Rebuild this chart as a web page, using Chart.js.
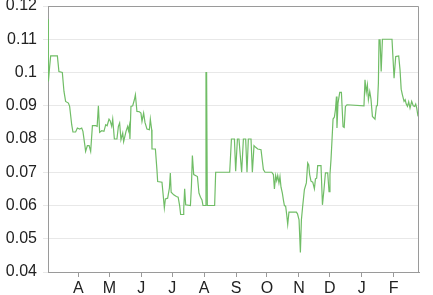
<!DOCTYPE html>
<html>
<head>
<meta charset="utf-8">
<script src="https://cdn.jsdelivr.net/npm/chart.js@4"></script>
<style>
  html, body { margin: 0; padding: 0; background: #fff; }
  #wrap { width: 433px; height: 295px; }
</style>
</head>
<body>
<div id="wrap"><canvas id="rateChart" width="433" height="295"></canvas></div>
<script>
// days counted from 1 March
const days = [
  1.5, 1.9, 3.1, 4.1, 10.6, 12.1, 15.4, 17.0, 18.6, 21.3, 22.5, 24.5, 25.7, 28.3, 30.0, 32.2,
  34.2, 35.4, 37.4, 38.0, 39.7, 41.4, 42.9, 44.6, 47.8, 49.2, 50.4, 51.6, 53.6, 55.8, 57.5, 58.9,
  60.7, 61.8, 63.3, 64.3, 65.9, 68.4, 69.8, 71.0, 72.3, 74.0, 74.9, 77.2, 78.8, 79.6, 80.5, 81.0,
  82.0, 83.7, 85.3, 86.3, 87.8, 90.2, 91.7, 92.7, 94.3, 95.6, 97.5, 99.9, 100.8, 102.1, 102.4, 105.7,
  107.2, 107.9, 112.1, 113.1, 114.4, 115.4, 117.6, 119.3, 120.2, 121.0, 123.5, 126.1, 127.8, 129.3, 130.2, 132.5,
  133.2, 134.1, 135.1, 139.7, 140.7, 141.6, 142.9, 146.5, 148.0, 149.5, 150.9, 151.9, 154.1, 154.8, 155.4, 156.1,
  163.2, 164.2, 177.8, 179.5, 182.4, 183.6, 185.3, 186.8, 189.4, 191.1, 193.3, 194.6, 195.9, 198.5, 199.8, 201.4,
  203.0, 205.0, 208.2, 210.5, 212.1, 218.6, 220.2, 221.2, 222.4, 223.4, 224.4, 225.6, 226.6, 227.6, 228.9, 229.9,
  230.9, 232.1, 233.1, 234.1, 235.3, 242.5, 243.6, 245.1, 246.4, 247.4, 248.6, 250.3, 252.2, 253.5, 254.5, 255.4,
  256.7, 258.4, 260.0, 261.0, 262.2, 263.2, 266.4, 267.8, 269.3, 270.7, 272.9, 274.2, 275.1, 276.1, 277.1, 278.1,
  279.4, 280.4, 281.4, 281.9, 282.9, 284.6, 286.2, 287.8, 288.9, 290.1, 291.6, 308.1, 309.1, 310.3, 311.4, 312.4,
  313.7, 314.9, 316.3, 318.8, 320.2, 321.1, 322.1, 322.7, 323.7, 324.8, 326.0, 335.3, 337.3, 338.9, 341.8, 343.1,
  344.2, 345.4, 347.0, 348.1, 349.1, 350.3, 351.5, 352.8, 354.4, 355.9, 357.3, 358.3, 359.3, 360.3, 361.5
];
const rates = [
  0.116, 0.0973, 0.1018, 0.105, 0.105, 0.1003, 0.100, 0.0943, 0.0913, 0.0908, 0.0898, 0.0843, 0.0821, 0.0821, 0.0833, 0.0830,
  0.0833, 0.0823, 0.0778, 0.0763, 0.078, 0.078, 0.0763, 0.084, 0.084, 0.0838, 0.090, 0.082, 0.0825, 0.0823, 0.0843, 0.0840,
  0.086, 0.0855, 0.0838, 0.086, 0.080, 0.080, 0.0838, 0.0848, 0.0798, 0.0818, 0.0792, 0.0823, 0.0838, 0.0825, 0.084, 0.080,
  0.0898, 0.090, 0.0918, 0.0933, 0.0883, 0.0882, 0.0878, 0.0853, 0.0878, 0.085, 0.0830, 0.0828, 0.086, 0.0828, 0.077, 0.077,
  0.0708, 0.0672, 0.0670, 0.0637, 0.0593, 0.0620, 0.0622, 0.0652, 0.0698, 0.0640, 0.0632, 0.0627, 0.0625, 0.0598, 0.0573, 0.0573,
  0.059, 0.0650, 0.0602, 0.060, 0.066, 0.0750, 0.0693, 0.0687, 0.0637, 0.0625, 0.0617, 0.060, 0.060, 0.100, 0.100, 0.060,
  0.060, 0.070, 0.070, 0.080, 0.080, 0.0703, 0.080, 0.080, 0.070, 0.080, 0.080, 0.070, 0.080, 0.080, 0.070, 0.078,
  0.0775, 0.077, 0.0768, 0.0708, 0.070, 0.0700, 0.0693, 0.065, 0.069, 0.0675, 0.069, 0.0668, 0.0687, 0.0655, 0.0637, 0.0617,
  0.060, 0.0598, 0.0573, 0.0543, 0.058, 0.058, 0.0575, 0.0557, 0.0459, 0.0557, 0.0597, 0.0648, 0.0668, 0.0728, 0.0722, 0.0693,
  0.0673, 0.0670, 0.065, 0.068, 0.0682, 0.072, 0.072, 0.0602, 0.0648, 0.0698, 0.0698, 0.0642, 0.0693, 0.0738, 0.0798, 0.086,
  0.0866, 0.0888, 0.0928, 0.0833, 0.0908, 0.094, 0.094, 0.0837, 0.0835, 0.0898, 0.0903, 0.090, 0.0978, 0.094, 0.0963, 0.0918,
  0.0943, 0.092, 0.0868, 0.086, 0.090, 0.090, 0.0968, 0.1098, 0.1098, 0.1003, 0.110, 0.110, 0.0983, 0.1048, 0.105, 0.1008,
  0.0950, 0.0933, 0.0913, 0.0918, 0.0905, 0.0898, 0.0912, 0.0893, 0.0913, 0.090, 0.0898, 0.0905, 0.0893, 0.0873, 0.0883
];
const monthStarts = [31, 61, 92, 122, 153, 184, 214, 245, 275, 306, 337];
const monthLabels = ['A', 'M', 'J', 'J', 'A', 'S', 'O', 'N', 'D', 'J', 'F'];

const points = days.map((d, i) => ({ x: d, y: rates[i] }));
const axisGray = '#9a9a9a';
const font = { family: 'Liberation Sans', size: 16 };

// top and right edges of the frame
const frame = {
  id: 'frame',
  afterDraw(chart) {
    const a = chart.chartArea, c = chart.ctx;
    c.save();
    c.strokeStyle = axisGray;
    c.lineWidth = 1;
    c.beginPath();
    c.moveTo(a.left, a.top + 0.5);
    c.lineTo(a.right - 0.5, a.top + 0.5);
    c.lineTo(a.right - 0.5, a.bottom);
    c.stroke();
    c.restore();
  }
};

new Chart(document.getElementById('rateChart').getContext('2d'), {
  type: 'line',
  data: {
    datasets: [{
      data: points,
      borderColor: '#70bd66',
      borderWidth: 1.2,
      pointRadius: 0,
      tension: 0,
      fill: false
    }]
  },
  options: {
    responsive: false,
    animation: false,
    layout: { padding: { top: 6, right: 14, left: 0, bottom: 0 } },
    plugins: { legend: { display: false }, tooltip: { enabled: false } },
    scales: {
      x: {
        type: 'linear',
        min: 1.5,
        max: 361.5,
        afterBuildTicks(scale) { scale.ticks = monthStarts.map(v => ({ value: v })); },
        afterFit(scale) { scale.height = 23; scale.paddingLeft = 0; scale.paddingRight = 0; },
        ticks: {
          autoSkip: false,
          maxRotation: 0,
          padding: 2,
          color: '#222',
          font: font,
          callback: (v) => monthLabels[monthStarts.indexOf(v)]
        },
        grid: { drawOnChartArea: false, drawTicks: true, tickLength: 5, color: axisGray },
        border: { display: true, color: axisGray }
      },
      y: {
        min: 0.04,
        max: 0.12,
        afterFit(scale) { scale.width = 48; scale.paddingTop = 0; scale.paddingBottom = 0; },
        ticks: {
          stepSize: 0.01,
          padding: 6,
          color: '#222',
          font: font,
          callback: (v) => String(Number(v.toFixed(2)))
        },
        grid: { color: '#e8e8e8', tickLength: 5 },
        border: { display: true, color: axisGray }
      }
    }
  },
  plugins: [frame]
});
</script>
</body>
</html>
